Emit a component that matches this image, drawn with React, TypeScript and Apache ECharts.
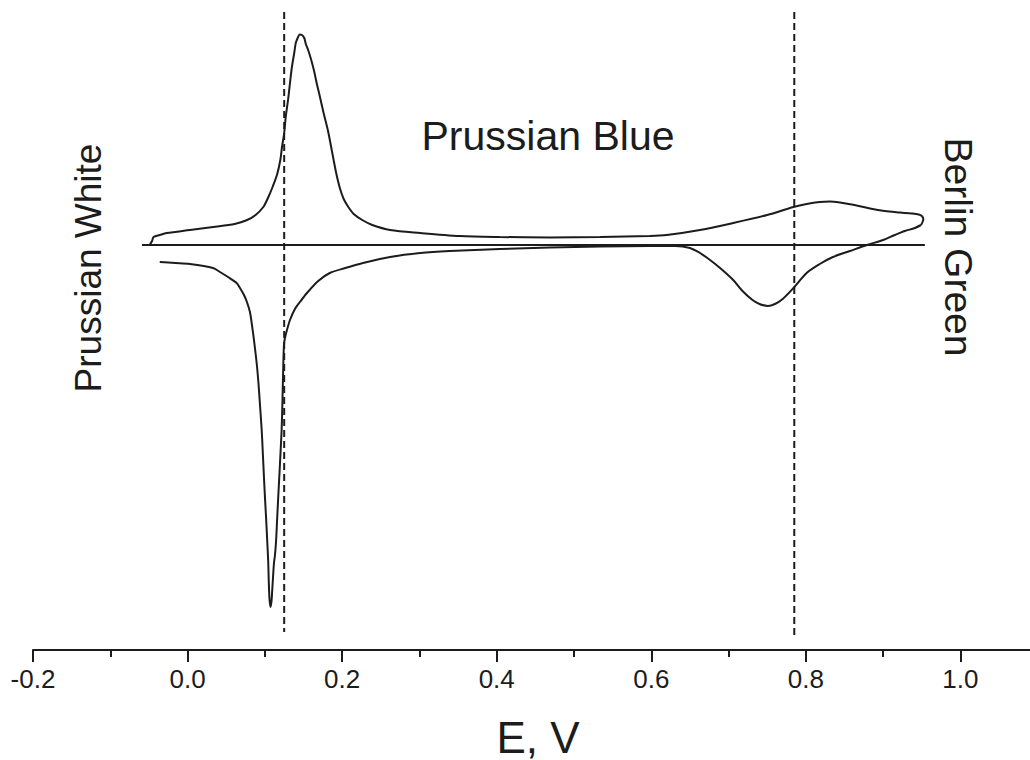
import React, { useEffect, useRef } from "react";
import * as echarts from "echarts";

// Potential E (V) vs current (arbitrary units) – anodic sweep (upper branch)
const anodicBranch: [number, number][] = [
  [-0.049, 0], [-0.046, 0.4], [-0.044, 0.8], [-0.036, 1.0], [-0.027, 1.2], [0.003, 1.5],
  [0.033, 1.8], [0.061, 2.1], [0.077, 2.5], [0.088, 3.0], [0.098, 3.8], [0.104, 4.7],
  [0.110, 5.8], [0.116, 7.1], [0.120, 8.5], [0.122, 9.7], [0.125, 11.2], [0.127, 12.8],
  [0.130, 14.5], [0.1325, 16.2], [0.135, 17.8], [0.138, 19.2], [0.140, 20.2], [0.143, 20.8],
  [0.145, 21.05], [0.148, 21.0], [0.151, 20.7], [0.153, 20.1], [0.156, 19.5], [0.160, 18.5],
  [0.164, 17.3], [0.167, 16.2], [0.171, 14.9], [0.176, 13.2], [0.182, 11.3], [0.187, 9.3],
  [0.192, 7.3], [0.197, 5.7], [0.202, 4.6], [0.208, 3.8], [0.215, 3.1], [0.226, 2.5],
  [0.239, 2.0], [0.262, 1.5], [0.301, 1.2], [0.352, 0.9], [0.404, 0.8], [0.469, 0.75],
  [0.534, 0.8], [0.598, 0.9], [0.620, 1.0], [0.663, 1.5], [0.706, 2.2], [0.750, 3.0],
  [0.784, 3.8], [0.801, 4.1], [0.818, 4.3], [0.831, 4.35], [0.844, 4.25], [0.863, 4.0],
  [0.883, 3.65], [0.902, 3.4], [0.922, 3.25], [0.937, 3.15], [0.946, 3.05], [0.950, 2.9],
  [0.952, 2.6], [0.951, 2.3], [0.949, 2.0],
];

// Cathodic sweep (lower branch), from the turning point back to the start
const cathodicBranch: [number, number][] = [
  [0.949, 2.0], [0.941, 1.7], [0.928, 1.4], [0.915, 1.0], [0.900, 0.5], [0.879, 0],
  [0.857, -0.6], [0.835, -1.2], [0.818, -1.9], [0.801, -2.8], [0.784, -4.3], [0.770, -5.4],
  [0.760, -5.9], [0.751, -6.1], [0.740, -5.9], [0.731, -5.5], [0.718, -4.6], [0.706, -3.5],
  [0.689, -2.3], [0.676, -1.5], [0.663, -0.8], [0.650, -0.3], [0.631, -0.1], [0.598, -0.1],
  [0.534, -0.15], [0.469, -0.25], [0.404, -0.4], [0.339, -0.6], [0.301, -0.8], [0.262, -1.2],
  [0.227, -1.8], [0.204, -2.3], [0.184, -2.8], [0.169, -3.6], [0.1545, -4.8], [0.1454, -5.7],
  [0.1389, -6.4], [0.1325, -7.5], [0.1286, -8.5], [0.1260, -9.3], [0.1247, -10.0], [0.1237, -12.5],
  [0.1228, -15.5], [0.1217, -18.5], [0.1203, -20.7], [0.1188, -23.0], [0.1173, -25.2], [0.1159, -27.4],
  [0.1145, -29.6], [0.1131, -31.0], [0.1118, -31.8], [0.1105, -33.3], [0.1094, -34.7], [0.1085, -35.7],
  [0.1072, -36.2], [0.1059, -35.3], [0.1050, -33.5], [0.1044, -31.8], [0.1030, -29.5], [0.1016, -27.3],
  [0.1001, -25.2], [0.0987, -23.0], [0.0973, -20.7], [0.0959, -18.5], [0.0937, -16.0], [0.0917, -13.8],
  [0.0894, -11.8], [0.0859, -9.5], [0.0833, -8.0], [0.0807, -6.7], [0.0768, -5.7], [0.0730, -5.0],
  [0.0678, -4.3], [0.0635, -3.8], [0.0523, -3.2], [0.0419, -2.7], [0.0329, -2.3], [0.003, -1.9],
  [-0.016, -1.8], [-0.036, -1.7],
];

// Zero-current baseline
const baseline: [number, number][] = [[-0.059, 0], [0.954, 0]];

// Vertical dashed markers (formal potentials)
const dashedLeft: [number, number][] = [[0.125, 23.3], [0.125, -38.7]];
const dashedRight: [number, number][] = [[0.785, 23.3], [0.785, -39.0]];

const majorTicks = [-0.2, 0.0, 0.2, 0.4, 0.6, 0.8, 1.0];
const minorTicks = [-0.1, 0.1, 0.3, 0.5, 0.7, 0.9];

const xTitle = "E, V";
const regionLabels = {
  white: "Prussian White",
  blue: "Prussian Blue",
  green: "Berlin Green",
};

export default function App() {
  const ref = useRef<HTMLDivElement>(null);

  useEffect(() => {
    if (!ref.current) return;
    const chart = echarts.init(ref.current, null, { renderer: "svg" });
    const ink = "#1c1c1c";
    const font = "'Liberation Sans', Arial, Helvetica, sans-serif";
    const lineSeries = (data: [number, number][], dashed = false) => ({
      type: "line",
      data,
      showSymbol: false,
      smooth: dashed ? false : 0.3,
      lineStyle: {
        color: ink,
        width: 2,
        type: dashed ? [7, 4] : "solid",
      },
      silent: true,
    });

    chart.setOption({
      animation: false,
      backgroundColor: "#ffffff",
      grid: { left: 33, right: 0, top: 0, bottom: 110, containLabel: false },
      xAxis: [
        {
          type: "value",
          min: -0.2,
          max: 1.09,
          interval: 0.2,
          position: "bottom",
          axisLine: { show: true, onZero: false, lineStyle: { color: ink, width: 2 } },
          axisTick: {
            show: true,
            length: 12,
            customValues: majorTicks,
            lineStyle: { color: ink, width: 2 },
          },
          axisLabel: {
            show: true,
            customValues: majorTicks,
            formatter: (v: number) => v.toFixed(1),
            fontSize: 26,
            color: ink,
            fontFamily: font,
            margin: 16,
          },
          splitLine: { show: false },
        },
        {
          type: "value",
          min: -0.2,
          max: 1.09,
          interval: 0.2,
          position: "bottom",
          axisLine: { show: false, onZero: false },
          axisTick: {
            show: true,
            length: 7,
            customValues: minorTicks,
            lineStyle: { color: ink, width: 2 },
          },
          axisLabel: { show: false },
          splitLine: { show: false },
        },
      ],
      yAxis: {
        type: "value",
        min: -40.5,
        max: 24.5,
        show: false,
        splitLine: { show: false },
      },
      series: [
        lineSeries(baseline),
        lineSeries(anodicBranch),
        lineSeries(cathodicBranch),
        lineSeries(dashedLeft, true),
        lineSeries(dashedRight, true),
      ],
      graphic: [
        {
          type: "text",
          x: 548,
          y: 136,
          style: {
            text: regionLabels.blue,
            font: `41px ${font}`,
            fill: ink,
            textAlign: "center",
            textVerticalAlign: "middle",
          },
        },
        {
          type: "text",
          x: 88,
          y: 268,
          rotation: Math.PI / 2,
          style: {
            text: regionLabels.white,
            font: `37px ${font}`,
            fill: ink,
            textAlign: "center",
            textVerticalAlign: "middle",
          },
        },
        {
          type: "text",
          x: 958,
          y: 247,
          rotation: -Math.PI / 2,
          style: {
            text: regionLabels.green,
            font: `39px ${font}`,
            fill: ink,
            textAlign: "center",
            textVerticalAlign: "middle",
          },
        },
        {
          type: "text",
          x: 538,
          y: 737,
          style: {
            text: xTitle,
            font: `44px ${font}`,
            fill: ink,
            textAlign: "center",
            textVerticalAlign: "middle",
          },
        },
      ],
    });

    return () => chart.dispose();
  }, []);

  return (
    <div
      ref={ref}
      style={{ position: "absolute", left: 0, top: 0, width: 1030, height: 760 }}
    />
  );
}
